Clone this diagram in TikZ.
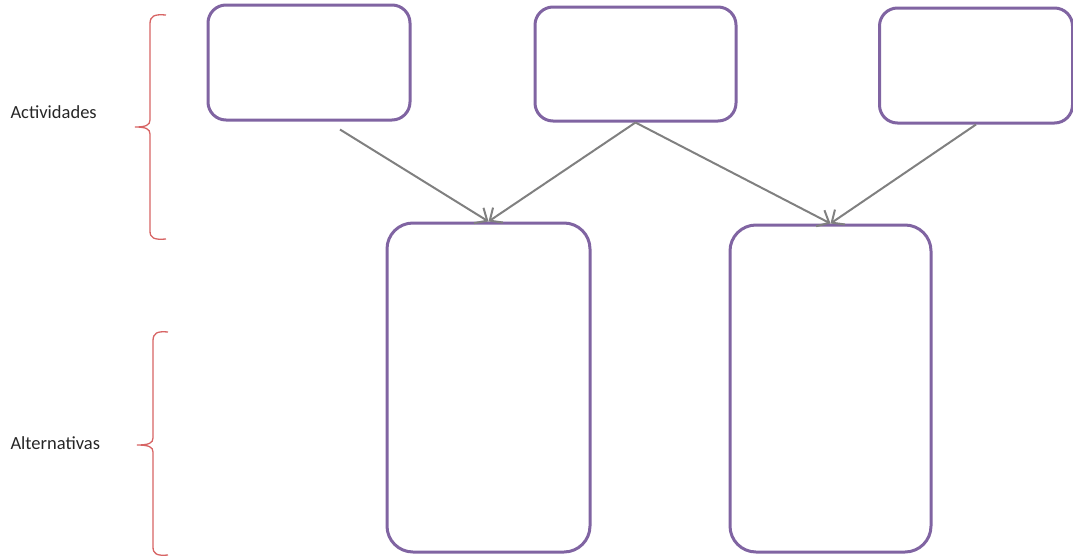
\documentclass[tikz,border=0pt]{standalone}
\usepackage{fontspec}
\setmainfont{Carlito}
\usetikzlibrary{arrows.meta, positioning}
\definecolor{boxpurple}{RGB}{128,100,162}
\definecolor{bracered}{RGB}{215,100,100}
\definecolor{arrowgray}{RGB}{128,128,128}

\begin{document}
\begin{tikzpicture}
      [x=1pt,y=-1pt,
       box/.style={draw=boxpurple,line width=3pt,rounded corners=18pt,inner sep=0pt},
       tallbox/.style={box,rounded corners=26pt},
       arr/.style={draw=arrowgray,line width=2pt,-{Straight Barb[length=10pt,width=18pt]}},
       brace/.style={draw=bracered,line width=1.3pt},
       label/.style={anchor=west,font=\fontsize{18.5}{20}\selectfont,text=black!85}]
      \useasboundingbox (0,0) rectangle (1073,557);
      \node[box,minimum width=202pt,minimum height=115pt] (a1) at (309,62.5) {};
      \node[box,minimum width=201pt,minimum height=114pt] (a2) at (635.5,64) {};
      \node[box,minimum width=193pt,minimum height=115pt] (a3) at (976,65.5) {};
      \node[tallbox,minimum width=203pt,minimum height=329pt] (b1) at (488.5,387.5) {};
      \node[tallbox,minimum width=201pt,minimum height=327pt] (b2) at (830.5,388.5) {};
      \node[label] (act) at (7,112) {Actividades};
      \node[label] (alt) at (7,443) {Alternativas};

      \draw[arr] ([xshift=31pt,yshift=-8pt]a1.south) -- (b1.north);
      \foreach \from/\to in {a2/b1,a2/b2,a3/b2}
        \draw[arr] (\from.south) -- (\to.north);

      % braces
      \draw[brace] (166,15) .. controls (154,14) and (150,16) .. (150,24) -- (150,120)
        .. controls (150,125) and (146,127) .. (135,127)
        .. controls (146,127) and (150,129) .. (150,134) -- (150,231)
        .. controls (150,238) and (154,240) .. (166,239);
      \draw[brace] (168,332) .. controls (157,331) and (153,333) .. (153,341) -- (153,438)
        .. controls (153,443) and (149,445) .. (137,445)
        .. controls (149,445) and (153,447) .. (153,452) -- (153,547)
        .. controls (153,554) and (157,556) .. (168,555);
\end{tikzpicture}
\end{document}
